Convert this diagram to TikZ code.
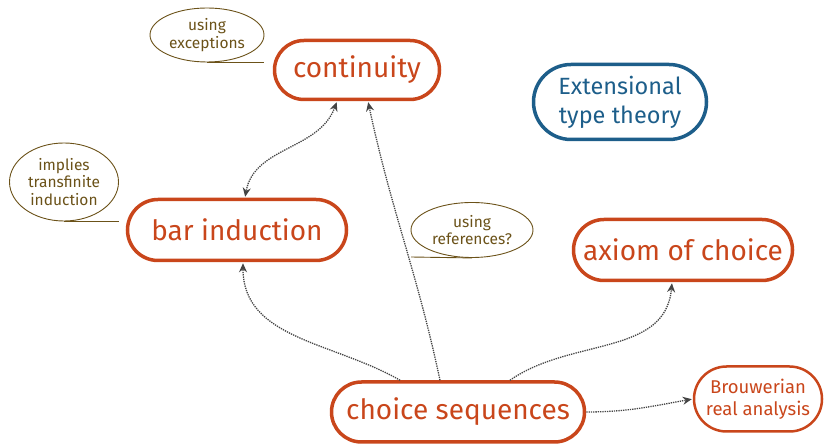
\documentclass[tikz,border=0pt]{standalone}
\usepackage{fontspec}
\setmainfont{Fira Sans}
\usepackage{tikz}
\usetikzlibrary{shapes.geometric,arrows.meta}
\definecolor{topicred}{HTML}{C9461B}
\definecolor{topicblue}{HTML}{1D5E8A}
\definecolor{notebrown}{HTML}{6B5219}
\definecolor{linkgray}{HTML}{444444}

\begin{document}
\begin{tikzpicture}[x=1pt,y=1pt,
    topic/.style={draw=topicred, text=topicred, line width=3.5pt, inner sep=0pt, font=\fontsize{28}{31}\selectfont},
    note/.style={draw=notebrown, text=notebrown, ellipse, line width=0.9pt, inner sep=0pt, align=center, font=\fontsize{15.5}{17.5}\selectfont},
    link/.style={draw=linkgray, densely dotted, line width=1.3pt, -{Stealth[length=9pt,width=8pt]}, shorten >=1pt}]
      \useasboundingbox (0,0) rectangle (824,444);
      \node[topic, minimum width=165, minimum height=59, rounded corners=29.5] (cont) at (357,374) {continuity};
      \node[topic, minimum width=219, minimum height=61, rounded corners=30.5] (bar) at (237,214) {bar induction};
      \node[topic, minimum width=219, minimum height=61, rounded corners=30.5] (aoc) at (683,194) {axiom of choice};
      \node[topic, minimum width=253, minimum height=60, rounded corners=30] (cs) at (458,32) {choice sequences};
      \node[topic, draw=topicblue, text=topicblue, align=center, minimum width=173, minimum height=75, rounded corners=37.5, font=\fontsize{23.5}{29}\selectfont] (ett) at (620,342) {Extensional\\type theory};
      \node[topic, line width=2.5pt, align=center, minimum width=128, minimum height=65, rounded corners=32.5, font=\fontsize{18.5}{22}\selectfont] (bra) at (758,45) {Brouwerian\\real analysis};
      \node[note, minimum width=114, minimum height=54] (exc) at (207,409) {using\\exceptions};
      \node[note, minimum width=109, minimum height=78] (trans) at (64,262) {implies\\transfinite\\induction};
      \node[note, minimum width=122, minimum height=55] (refs) at (472,214) {using\\references?};
      \coordinate (refsend) at (411,187);
      \draw[notebrown, line width=0.9pt] (exc.south) -- ([xshift=-9pt]exc.south -| cont.west);
      \draw[notebrown, line width=0.9pt] (trans.south) -- ([xshift=-7pt]trans.south -| bar.west);
      \draw[notebrown, line width=0.9pt] (refsend) -- (refs.south);
      \draw[link, {Stealth[length=9pt,width=8pt]}-{Stealth[length=9pt,width=8pt]}, shorten <=1pt] ([xshift=-20pt]cont.south) to[out=-110,in=80] ([xshift=8pt]bar.north);
      \draw[link] ([xshift=-58pt]cs.north) to[out=150,in=-90] ([xshift=6pt]bar.south);
      \draw[link] ([xshift=-18pt]cs.north) to[out=102,in=-78] ([xshift=11pt]cont.south);
      \draw[link] ([xshift=52pt]cs.north) to[out=35,in=-95] ([xshift=-11pt]aoc.south);
      \draw[link] (cs.east) to[out=0,in=190] (bra.west);
\end{tikzpicture}
\end{document}
